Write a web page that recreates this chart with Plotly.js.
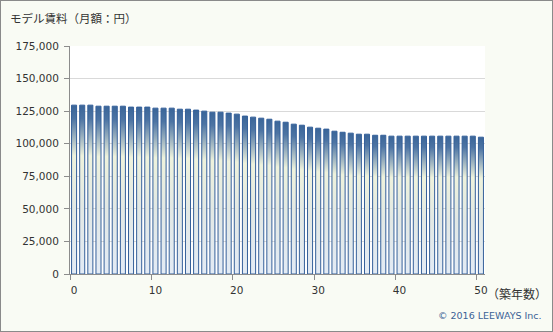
<!DOCTYPE html>
<html>
<head>
<meta charset="utf-8">
<script src="https://cdn.plot.ly/plotly-3.0.1.min.js"></script>
<style>
html,body{margin:0;padding:0;background:#f9fbf4;}
#chart{width:551px;height:330px;border:1px solid #8a8a8a;}
</style>
</head>
<body>
<div id="chart"></div>
<script>
// 築年数 (years)
var years = [0,1,2,3,4,5,6,7,8,9,10,11,12,13,14,15,16,17,18,19,20,21,22,23,24,25,26,27,28,29,30,31,32,33,34,35,36,37,38,39,40,41,42,43,44,45,46,47,48,49,50];
// モデル賃料 (月額：円)
var rent = [129600,129600,129600,128800,128800,128800,128800,128100,128100,128100,
            127300,127300,127300,126500,126500,125800,125000,124200,124200,123500,
            122700,121200,120400,119600,118800,117300,116500,115000,114200,112700,
            111900,111200,109600,108800,108100,107300,107300,106500,106500,105800,
            105800,105800,105800,105800,105800,105800,105800,105800,105800,105800,
            105000];
var xTickVals = [0,10,20,30,40,50];
var xTickText = ['0','10','20','30','40','50'];
var yTickVals = [0,25000,50000,75000,100000,125000,150000,175000];
var yTickText = ['0','25,000','50,000','75,000','100,000','125,000','150,000','175,000'];

var tickFont = {family:'DejaVu Sans, Verdana, sans-serif', size:10.5, color:'#333333'};

var trace = {
  type:'bar', x:years, y:rent,
  marker:{color:'#9fb5cf', line:{color:'#35609a', width:1}},
  hoverinfo:'skip'
};

var layout = {
  width:551, height:330,
  margin:{l:69, r:67, t:45, b:57, pad:0},
  paper_bgcolor:'#f9fbf4', plot_bgcolor:'#ffffff',
  bargap:0.38,
  showlegend:false,
  xaxis:{
    range:[-0.5,50.5], tickmode:'array', tickvals:xTickVals, ticktext:xTickText,
    ticks:'', showgrid:false, zeroline:false,
    showline:true, linecolor:'#8c8c8c', linewidth:1,
    tickfont:tickFont, ticklabelstandoff:6,
    minor:{tickmode:'array', tickvals:[-0.5,9.5,19.5,29.5,39.5,49.5], ticks:'outside', ticklen:5, tickcolor:'#8c8c8c', tickwidth:1, showgrid:false}
  },
  yaxis:{
    range:[0,175000], tickmode:'array', tickvals:yTickVals, ticktext:yTickText,
    ticks:'outside', ticklen:5, tickcolor:'#8c8c8c', tickwidth:1,
    showgrid:true, gridcolor:'#d9d9d9', gridwidth:1, zeroline:false,
    showline:true, linecolor:'#8c8c8c', linewidth:1,
    tickfont:tickFont, ticklabelstandoff:3
  },
  annotations:[
    {text:'モデル賃料（月額：円）', xref:'paper', yref:'paper', x:-62/414, y:1+28/228, xanchor:'left', yanchor:'middle', showarrow:false,
     font:{family:'Noto Sans CJK JP, sans-serif', size:11.5, color:'#333333'}},
    {text:'（築年数）', xref:'paper', yref:'paper', x:1+64/414, y:-19.5/228, xanchor:'right', yanchor:'middle', showarrow:false,
     font:{family:'Noto Sans CJK JP, sans-serif', size:12, color:'#333333'}},
    {text:'© 2016 LEEWAYS Inc.', xref:'paper', yref:'paper', x:1+59/414, y:-41.5/228, xanchor:'right', yanchor:'middle', showarrow:false,
     font:{family:'DejaVu Sans, Verdana, sans-serif', size:9.5, color:'#3b6296'}}
  ]
};

var gd = document.getElementById('chart');
function applyGradient(){
  var svg = gd.querySelector('svg.main-svg');
  if(!svg) return;
  var ns = 'http://www.w3.org/2000/svg';
  var defs = svg.querySelector('defs');
  if(!defs){ defs = document.createElementNS(ns,'defs'); svg.insertBefore(defs, svg.firstChild); }
  if(!svg.querySelector('#barGrad')){
    var lg = document.createElementNS(ns,'linearGradient');
    lg.setAttribute('id','barGrad');
    lg.setAttribute('x1','0'); lg.setAttribute('y1','0');
    lg.setAttribute('x2','0'); lg.setAttribute('y2','1');
    var stops = [[0,'#3a6598'],[0.08,'#4d74a3'],[0.3,'#eef2dc'],[0.6,'#e2e8e4'],[1,'#e3ebf5']];
    stops.forEach(function(s){
      var st = document.createElementNS(ns,'stop');
      st.setAttribute('offset', s[0]);
      st.setAttribute('stop-color', s[1]);
      lg.appendChild(st);
    });
    defs.appendChild(lg);
  }
  gd.querySelectorAll('.barlayer .point path').forEach(function(p){
    p.style.fill = 'url(#barGrad)';
    p.style.fillOpacity = 1;
  });
}
Plotly.newPlot(gd, [trace], layout, {displayModeBar:false, staticPlot:true}).then(function(){
  applyGradient();
  gd.on('plotly_afterplot', applyGradient);
});
</script>
</body>
</html>
